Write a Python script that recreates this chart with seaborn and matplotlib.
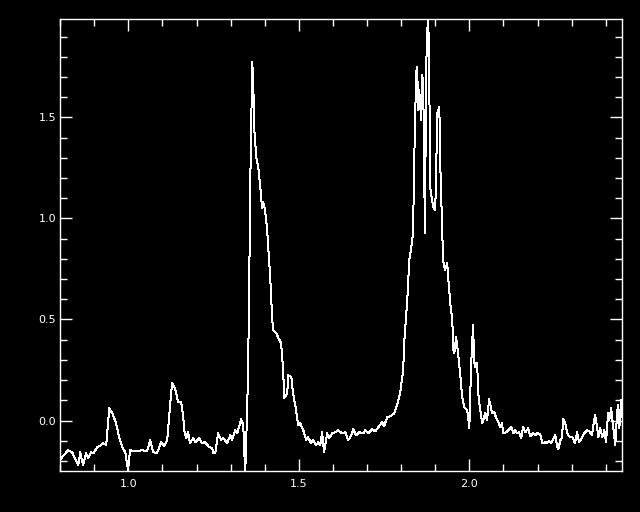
import numpy as np
import pandas as pd
import matplotlib
matplotlib.use('Agg')
import matplotlib.pyplot as plt
from matplotlib.ticker import MultipleLocator, FixedLocator
import seaborn as sns

# Spectrum
wavelength = [
    0.803, 0.823, 0.835, 0.853, 0.859, 0.867, 0.876, 0.882, 0.891, 0.897,
    0.909, 0.920, 0.926, 0.935, 0.944, 0.953, 0.964, 0.973, 0.982, 0.991,
    0.999, 1.005, 1.020, 1.041, 1.055, 1.064, 1.073, 1.084, 1.096, 1.105,
    1.114, 1.128, 1.137, 1.146, 1.155, 1.161, 1.164, 1.170, 1.175, 1.181,
    1.190, 1.196, 1.208, 1.216, 1.225, 1.237, 1.246, 1.249, 1.255, 1.263,
    1.272, 1.278, 1.290, 1.299, 1.304, 1.313, 1.319, 1.331, 1.337, 1.340,
    1.343, 1.349, 1.354, 1.357, 1.360, 1.363, 1.366, 1.369, 1.375, 1.381,
    1.387, 1.392, 1.395, 1.401, 1.407, 1.416, 1.422, 1.425, 1.434, 1.439,
    1.448, 1.454, 1.457, 1.466, 1.469, 1.478, 1.483, 1.492, 1.498, 1.504,
    1.513, 1.522, 1.527, 1.536, 1.542, 1.551, 1.557, 1.563, 1.568, 1.574,
    1.583, 1.589, 1.598, 1.607, 1.615, 1.627, 1.636, 1.645, 1.654, 1.659,
    1.668, 1.677, 1.689, 1.695, 1.703, 1.715, 1.724, 1.733, 1.744, 1.750,
    1.759, 1.768, 1.780, 1.788, 1.797, 1.806, 1.809, 1.818, 1.824, 1.830,
    1.835, 1.838, 1.844, 1.847, 1.850, 1.853, 1.859, 1.862, 1.865, 1.867,
    1.870, 1.873, 1.876, 1.879, 1.882, 1.885, 1.891, 1.894, 1.900, 1.903,
    1.906, 1.912, 1.915, 1.920, 1.923, 1.929, 1.935, 1.938, 1.944, 1.950,
    1.953, 1.956, 1.961, 1.967, 1.973, 1.979, 1.985, 1.994, 2.000, 2.005,
    2.011, 2.014, 2.017, 2.023, 2.026, 2.032, 2.038, 2.047, 2.052, 2.058,
    2.067, 2.073, 2.079, 2.085, 2.091, 2.096, 2.099, 2.108, 2.114, 2.123,
    2.129, 2.135, 2.140, 2.146, 2.152, 2.158, 2.164, 2.173, 2.178, 2.187,
    2.193, 2.199, 2.208, 2.214, 2.223, 2.228, 2.234, 2.240, 2.246, 2.252,
    2.258, 2.261, 2.267, 2.272, 2.275, 2.281, 2.287, 2.293, 2.302, 2.305,
    2.310, 2.316, 2.322, 2.331, 2.337, 2.346, 2.352, 2.360, 2.363, 2.369,
    2.375, 2.378, 2.384, 2.390, 2.396, 2.401, 2.407, 2.410, 2.416, 2.422,
    2.428, 2.434, 2.437, 2.440, 2.445, 2.448,
]
flux = [
    -0.187, -0.147, -0.157, -0.221, -0.157, -0.221, -0.162, -0.187, -0.157, -0.162,
    -0.132, -0.122, -0.112, -0.122, 0.061, 0.036, -0.013, -0.083, -0.132, -0.157,
    -0.246, -0.147, -0.152, -0.147, -0.152, -0.097, -0.157, -0.162, -0.107, -0.127,
    -0.097, 0.185, 0.160, 0.091, 0.091, 0.016, -0.048, -0.087, -0.058, -0.112,
    -0.087, -0.107, -0.087, -0.112, -0.107, -0.132, -0.137, -0.162, -0.162, -0.063,
    -0.097, -0.087, -0.112, -0.073, -0.097, -0.048, -0.063, 0.006, -0.023, -0.162,
    -0.246, 0.086, 0.561, 1.140, 1.402, 1.773, 1.699, 1.451, 1.303, 1.254,
    1.155, 1.051, 1.081, 1.041, 0.942, 0.709, 0.496, 0.447, 0.432, 0.412,
    0.383, 0.249, 0.110, 0.135, 0.224, 0.214, 0.135, 0.051, -0.023, -0.013,
    -0.048, -0.097, -0.083, -0.112, -0.097, -0.122, -0.107, -0.122, -0.058, -0.157,
    -0.063, -0.087, -0.063, -0.058, -0.048, -0.063, -0.058, -0.097, -0.073, -0.043,
    -0.073, -0.058, -0.063, -0.048, -0.063, -0.043, -0.053, -0.033, -0.008, -0.028,
    0.016, 0.021, 0.036, 0.076, 0.135, 0.249, 0.383, 0.596, 0.794, 0.858,
    0.927, 1.254, 1.719, 1.749, 1.536, 1.635, 1.486, 1.709, 1.649, 1.289,
    0.927, 1.699, 1.917, 1.982, 1.833, 1.155, 1.091, 1.056, 1.041, 1.254,
    1.521, 1.550, 1.254, 0.957, 0.794, 0.744, 0.779, 0.709, 0.581, 0.496,
    0.348, 0.333, 0.412, 0.333, 0.234, 0.115, 0.066, 0.051, -0.038, 0.264,
    0.472, 0.298, 0.264, 0.284, 0.135, 0.051, -0.013, 0.036, 0.001, 0.105,
    0.036, 0.041, 0.011, -0.008, -0.033, -0.013, -0.063, -0.058, -0.048, -0.033,
    -0.063, -0.048, -0.063, -0.058, -0.087, -0.033, -0.058, -0.038, -0.078, -0.063,
    -0.073, -0.063, -0.068, -0.112, -0.107, -0.112, -0.102, -0.112, -0.093, -0.073,
    -0.132, -0.142, -0.097, -0.083, 0.006, -0.013, -0.063, -0.078, -0.083, -0.093,
    -0.112, -0.058, -0.107, -0.083, -0.063, -0.048, -0.053, -0.073, -0.033, 0.026,
    -0.033, -0.083, -0.038, -0.083, -0.048, -0.107, 0.036, 0.001, 0.061, -0.033,
    -0.122, 0.051, 0.076, -0.038, 0.100, 0.016,
]

x_major = [1.0, 1.5, 2.0]
y_major = [0.0, 0.5, 1.0, 1.5]

df = pd.DataFrame({'wavelength': wavelength, 'flux': flux})

plt.rcParams['font.family'] = ['DejaVu Sans']
fig = plt.figure(figsize=(6.4, 5.12), dpi=100, facecolor='black')
ax = fig.add_axes([0.094, 0.080, 0.878, 0.883], facecolor='black')

# IDL-style plot: one-pixel, non-antialiased white line
sns.lineplot(data=df, x='wavelength', y='flux', ax=ax, color='white',
             linewidth=0.72, sort=False, estimator=None, antialiased=False)

ax.set_xlim(0.8, 2.448)
ax.set_ylim(-0.25, 1.987)
ax.xaxis.set_major_locator(FixedLocator(x_major))
ax.yaxis.set_major_locator(FixedLocator(y_major))
ax.xaxis.set_minor_locator(MultipleLocator(0.1))
ax.yaxis.set_minor_locator(MultipleLocator(0.1))
ax.set_xticklabels([f'{v:.1f}' for v in x_major])
ax.set_yticklabels([f'{v:.1f}' for v in y_major])
ax.set_xlabel('')
ax.set_ylabel('')

ax.tick_params(which='both', direction='in', top=True, right=True,
               colors='white', width=1.0, labelsize=8)
ax.tick_params(which='major', length=8.5)
ax.tick_params(which='minor', length=4.8)
ax.tick_params(axis='x', which='major', pad=6)
ax.tick_params(axis='y', which='major', pad=3)
for s in ax.spines.values():
    s.set_color('white')
    s.set_linewidth(1.0)

fig.savefig('out.png', dpi=100, facecolor='black')
